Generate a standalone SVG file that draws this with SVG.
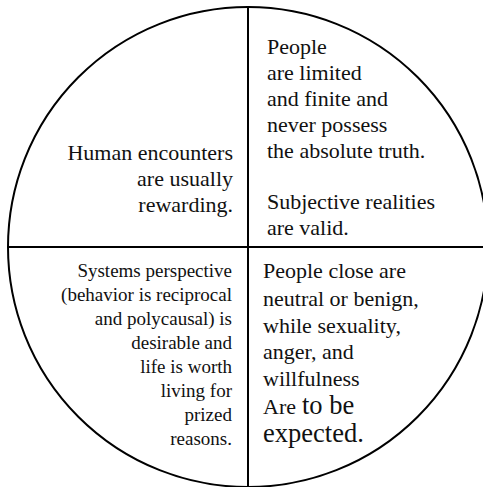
<svg xmlns="http://www.w3.org/2000/svg" width="483" height="487" viewBox="0 0 483 487">
<style>
.ring{stroke:#000;stroke-width:2;fill:none}
.lbl{font-family:"Liberation Serif","Times New Roman",serif;fill:#111}
.lbl-top{font-size:22px}
.lbl-small{font-size:19px}
.lbl-big{font-size:22px}
.lbl-times{font-size:26.5px}
.end{text-anchor:end}
</style>
<rect width="483" height="487" fill="#fff"/>
<g id="connectors">
<circle class="ring" cx="248" cy="247" r="240"/>
<line class="ring" x1="248" y1="6" x2="248" y2="487"/>
<line class="ring" x1="7" y1="247" x2="483" y2="247"/>
</g>
<g id="top-right">
<text class="lbl lbl-top" x="267" y="54">People</text>
<text class="lbl lbl-top" x="267" y="80">are limited</text>
<text class="lbl lbl-top" x="267" y="106">and finite and</text>
<text class="lbl lbl-top" x="267" y="132">never possess</text>
<text class="lbl lbl-top" x="267" y="158">the absolute truth.</text>
<text class="lbl lbl-top" x="267" y="209">Subjective realities</text>
<text class="lbl lbl-top" x="267" y="235">are valid.</text>
</g>
<g id="top-left">
<text class="lbl lbl-top end" x="233" y="160">Human encounters</text>
<text class="lbl lbl-top end" x="233" y="186">are usually</text>
<text class="lbl lbl-top end" x="233" y="212">rewarding.</text>
</g>
<g id="bottom-left">
<text class="lbl lbl-small end" x="232" y="277">Systems perspective</text>
<text class="lbl lbl-small end" x="232" y="301">(behavior is reciprocal</text>
<text class="lbl lbl-small end" x="232" y="325">and polycausal) is</text>
<text class="lbl lbl-small end" x="232" y="349">desirable and</text>
<text class="lbl lbl-small end" x="232" y="373">life is worth</text>
<text class="lbl lbl-small end" x="232" y="397">living for</text>
<text class="lbl lbl-small end" x="232" y="421">prized</text>
<text class="lbl lbl-small end" x="232" y="445">reasons.</text>
</g>
<g id="bottom-right">
<text class="lbl lbl-big" x="263" y="278">People close are</text>
<text class="lbl lbl-big" x="263" y="306">neutral or benign,</text>
<text class="lbl lbl-big" x="263" y="333">while sexuality,</text>
<text class="lbl lbl-big" x="263" y="359">anger, and</text>
<text class="lbl lbl-big" x="263" y="386">willfulness</text>
<text class="lbl lbl-big" x="263" y="414">Are</text>
<text class="lbl lbl-times" x="302" y="414">to be</text>
<text class="lbl lbl-times" x="263" y="442">expected.</text>
</g>
</svg>
